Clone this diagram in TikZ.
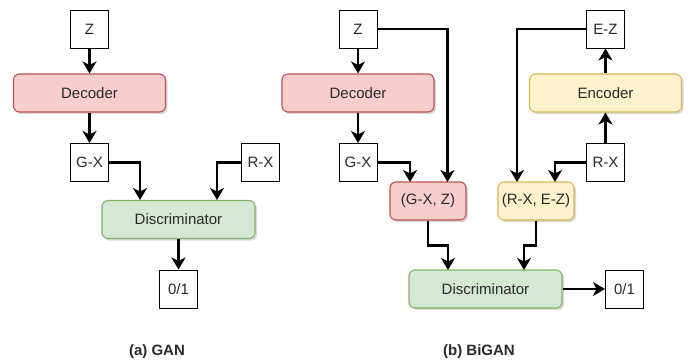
\documentclass[tikz,border=0pt]{standalone}
\usepackage{fontspec}
\setmainfont{Liberation Sans}
\usetikzlibrary{arrows.meta,shadows,calc}
\definecolor{pinkf}{HTML}{F8CECC}\definecolor{pinkd}{HTML}{B85450}
\definecolor{greenf}{HTML}{D5E8D4}\definecolor{greend}{HTML}{82B366}
\definecolor{yelf}{HTML}{FFF2CC}\definecolor{yeld}{HTML}{D6B656}
\definecolor{txt}{HTML}{2A2A2A}
\begin{document}
\begin{tikzpicture}[x=1pt,y=-1pt,
  every node/.style={font=\fontsize{15}{18}\selectfont, text=txt, inner sep=0pt},
  sq/.style={draw=black, line width=1pt, fill=white, minimum width=38pt, minimum height=38pt},
  rbox/.style={rounded corners=6pt, line width=1.1pt, minimum height=38pt,
    drop shadow={shadow xshift=2pt, shadow yshift=-2pt, opacity=0.25, fill=black!60}},
  pinkbox/.style={rbox, draw=pinkd, fill=pinkf},
  greenbox/.style={rbox, draw=greend, fill=greenf},
  yelbox/.style={rbox, draw=yeld, fill=yelf},
  arr/.style={line width=2.2pt, -{Stealth[length=12pt, width=14pt, inset=3.5pt]}},
  captext/.style={font=\bfseries\fontsize{15}{18}\selectfont}]
\useasboundingbox (0,0) rectangle (689,360);
% ---- (a) GAN
\node[sq] (lz) at (89.5,29) {Z};
\node[pinkbox, minimum width=152pt] (ldec) at (89.5,93) {Decoder};
\node[sq] (lgx) at (89.5,162.5) {G-X};
\node[sq] (lrx) at (260.5,162.5) {R-X};
\node[greenbox, minimum width=153pt] (ldisc) at (178.5,219.5) {Discriminator};
\node[sq] (lout) at (178.5,289) {0/1};
\node[captext] (lcap) at (157,352) {(a) GAN};
\coordinate (la) at (140,200);
\coordinate (lb) at (217,200);
\draw[arr] (lz) -- (ldec);
\draw[arr] (ldec) -- (lgx);
\draw[arr] (lgx.east) -| (la);
\draw[arr] (lrx.west) -| (lb);
\draw[arr] (ldisc) -- (lout);
% ---- (b) BiGAN
\node[sq] (rz) at (358,29) {Z};
\node[pinkbox, minimum width=152pt] (rdec) at (358,93) {Decoder};
\node[sq] (rgx) at (358,162.5) {G-X};
\node[sq] (ez) at (605.5,29) {E-Z};
\node[yelbox, minimum width=152pt] (enc) at (605.5,93) {Encoder};
\node[sq] (rrx) at (605.5,162.5) {R-X};
\node[pinkbox, minimum width=76pt] (pgz) at (428,201) {(G-X, Z)};
\node[yelbox, minimum width=76pt] (prz) at (536,201) {(R-X, E-Z)};
\node[greenbox, minimum width=153pt] (rdisc) at (485.5,289) {Discriminator};
\node[sq] (rout) at (624.5,289) {0/1};
\node[captext] (rcap) at (479,352) {(b) BiGAN};
\coordinate (pa1) at (410,182);
\coordinate (pa2) at (447.5,182);
\coordinate (pb1) at (517,182);
\coordinate (pb2) at (555,182);
\coordinate (da) at (448,270);
\coordinate (db) at (524,270);
\draw[arr] (rz) -- (rdec);
\draw[arr] (rdec) -- (rgx);
\draw[arr] (rrx) -- (enc);
\draw[arr] (enc) -- (ez);
\draw[arr] (rz.east) -| (pa2);
\draw[arr] (rgx.east) -| (pa1);
\draw[arr] (ez.west) -| (pb1);
\draw[arr] (rrx.west) -| (pb2);
\draw[arr] (pgz.south) -- ++(0,25) -| (da);
\draw[arr] (prz.south) -- ++(0,25) -| (db);
\draw[arr] (rdisc) -- (rout);
\end{tikzpicture}
\end{document}
